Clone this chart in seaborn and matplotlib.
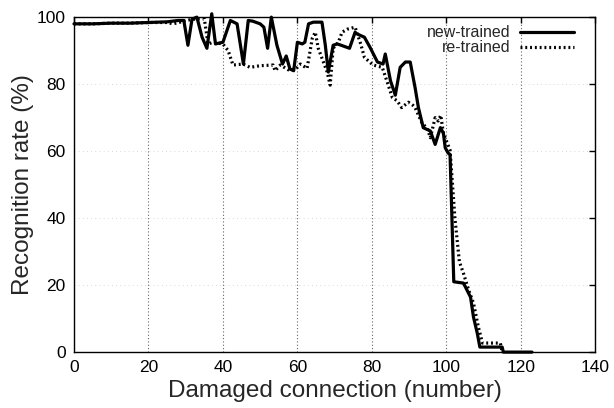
import matplotlib
matplotlib.use("Agg")
import matplotlib.pyplot as plt
import seaborn as sns
import pandas as pd

new_x = [0, 5, 10, 15, 20, 25, 28, 29.5, 30.6, 31.7, 33, 34.4, 35.7, 37, 38, 40, 42, 43.8,
         45.5, 46.8, 48, 50, 51, 52, 53, 54.5, 56, 57, 58, 59, 60, 61.3, 62, 63, 64.3, 66.6,
         67.5, 68.3, 69.6, 70.7, 72, 74, 75.5, 76, 78, 79.5, 81.5, 83, 83.6, 85, 86.3, 87.6,
         89, 90.3, 91.6, 92.5, 93.8, 95.7, 97, 98.4, 99.2, 99.7, 100.5, 101, 102, 104.6,
         106.5, 107.3, 108.3, 109, 115, 115.3, 123]
new_y = [98, 98, 98.2, 98.2, 98.4, 98.6, 99, 99, 91.6, 99.4, 100, 94, 90.7, 101, 92, 92.5, 99, 98,
         86, 99, 98.8, 98, 97, 90.7, 100, 91.6, 86, 88.4, 84.5, 84, 92.5, 92, 92.5, 98, 98.5, 98.5,
         91.6, 83.6, 91.6, 92, 91.5, 90.7, 95.5, 95, 94, 91, 86.6, 86, 89, 81, 76.7, 85,
         86.6, 86.6, 79, 73, 67, 66, 62, 67, 65.4, 61, 59.4, 59, 21, 20.6,
         16.4, 10.4, 5.7, 1.5, 1.5, 0, 0]

re_x = [0, 5, 10, 15, 20, 25, 26.6, 28.5, 30, 33, 35, 36, 37.4, 40, 41.4, 42.7, 45.4, 47.3, 50,
        53.5, 54, 55.4, 58, 60, 60.8, 62.6, 64, 64.8, 65.6, 68, 68.8, 69.6, 71, 72, 73.4, 75.5,
        77, 78, 80, 80.4, 82.8, 84, 85.5, 86.8, 88, 89.8, 91, 91.6, 93.5, 94.9, 95.7, 97, 97.8,
        98.5, 99.2, 101, 102.3, 103.5, 104.6, 106, 107.3, 108.6, 109.7, 114.5, 115]
re_y = [98, 98, 98.2, 98.2, 98.4, 98.4, 98, 98.5, 99, 99.5, 99.5, 92, 92.5, 92, 90, 85.7, 86, 85, 85.5,
        85.7, 84, 85.7, 84, 85, 86, 84.7, 93.7, 95.5, 90.7, 83.6, 79.7, 90.7, 92.5, 95.5, 96.4, 97,
        92, 88, 86, 85.7, 85, 81, 76, 75, 73, 74.6, 73.7, 73, 68.3, 66.8, 64, 70, 69,
        70.7, 65.4, 60.3, 40, 27, 23.5, 18.5, 14.6, 7.5, 2.7, 2.7, 0]

labels = ["new-trained", "re-trained"]
x_ticks = [0, 20, 40, 60, 80, 100, 120, 140]
y_ticks = [0, 20, 40, 60, 80, 100]

sns.set_style("white")
plt.rcParams['font.family'] = ['Liberation Sans', 'DejaVu Sans']

df = pd.concat([
    pd.DataFrame({"x": new_x, "y": new_y, "series": labels[0]}),
    pd.DataFrame({"x": re_x, "y": re_y, "series": labels[1]}),
])

fig = plt.figure(figsize=(6.14, 4.08), dpi=100)
ax = fig.add_axes([0.1205, 0.137, 0.849, 0.821])

sns.lineplot(data=df[df.series == labels[0]], x="x", y="y", ax=ax, color="black",
             linewidth=2.3, estimator=None, label=labels[0], clip_on=False)
sns.lineplot(data=df[df.series == labels[1]], x="x", y="y", ax=ax, color="black",
             linewidth=2.3, linestyle=(0, (0.6, 0.9)), estimator=None, label=labels[1])

ax.set_xlim(0, 140)
ax.set_ylim(0, 100)
ax.set_xticks(x_ticks)
ax.set_yticks(y_ticks)
ax.tick_params(direction="in", top=True, right=True, length=4, width=1, labelsize=12.5,
               colors="black", pad=6)
ax.grid(True, axis="x", linestyle=(0, (1, 2)), color="#666666", linewidth=0.8)
ax.grid(True, axis="y", linestyle=(0, (1, 4)), color="#cccccc", linewidth=0.6)
for s in ax.spines.values():
    s.set_color("black")
    s.set_linewidth(1.0)
ax.set_xlabel("Damaged connection (number)", fontsize=17.5, labelpad=3)
ax.set_ylabel("Recognition rate (%)", fontsize=17.5, labelpad=2)

leg = ax.legend(loc="upper right", frameon=False, markerfirst=False, fontsize=11.5,
                handlelength=3.4, borderaxespad=0.1, labelspacing=0.0, handletextpad=0.6,
                bbox_to_anchor=(0.975, 1.0))

fig.savefig("out.png", dpi=100)
